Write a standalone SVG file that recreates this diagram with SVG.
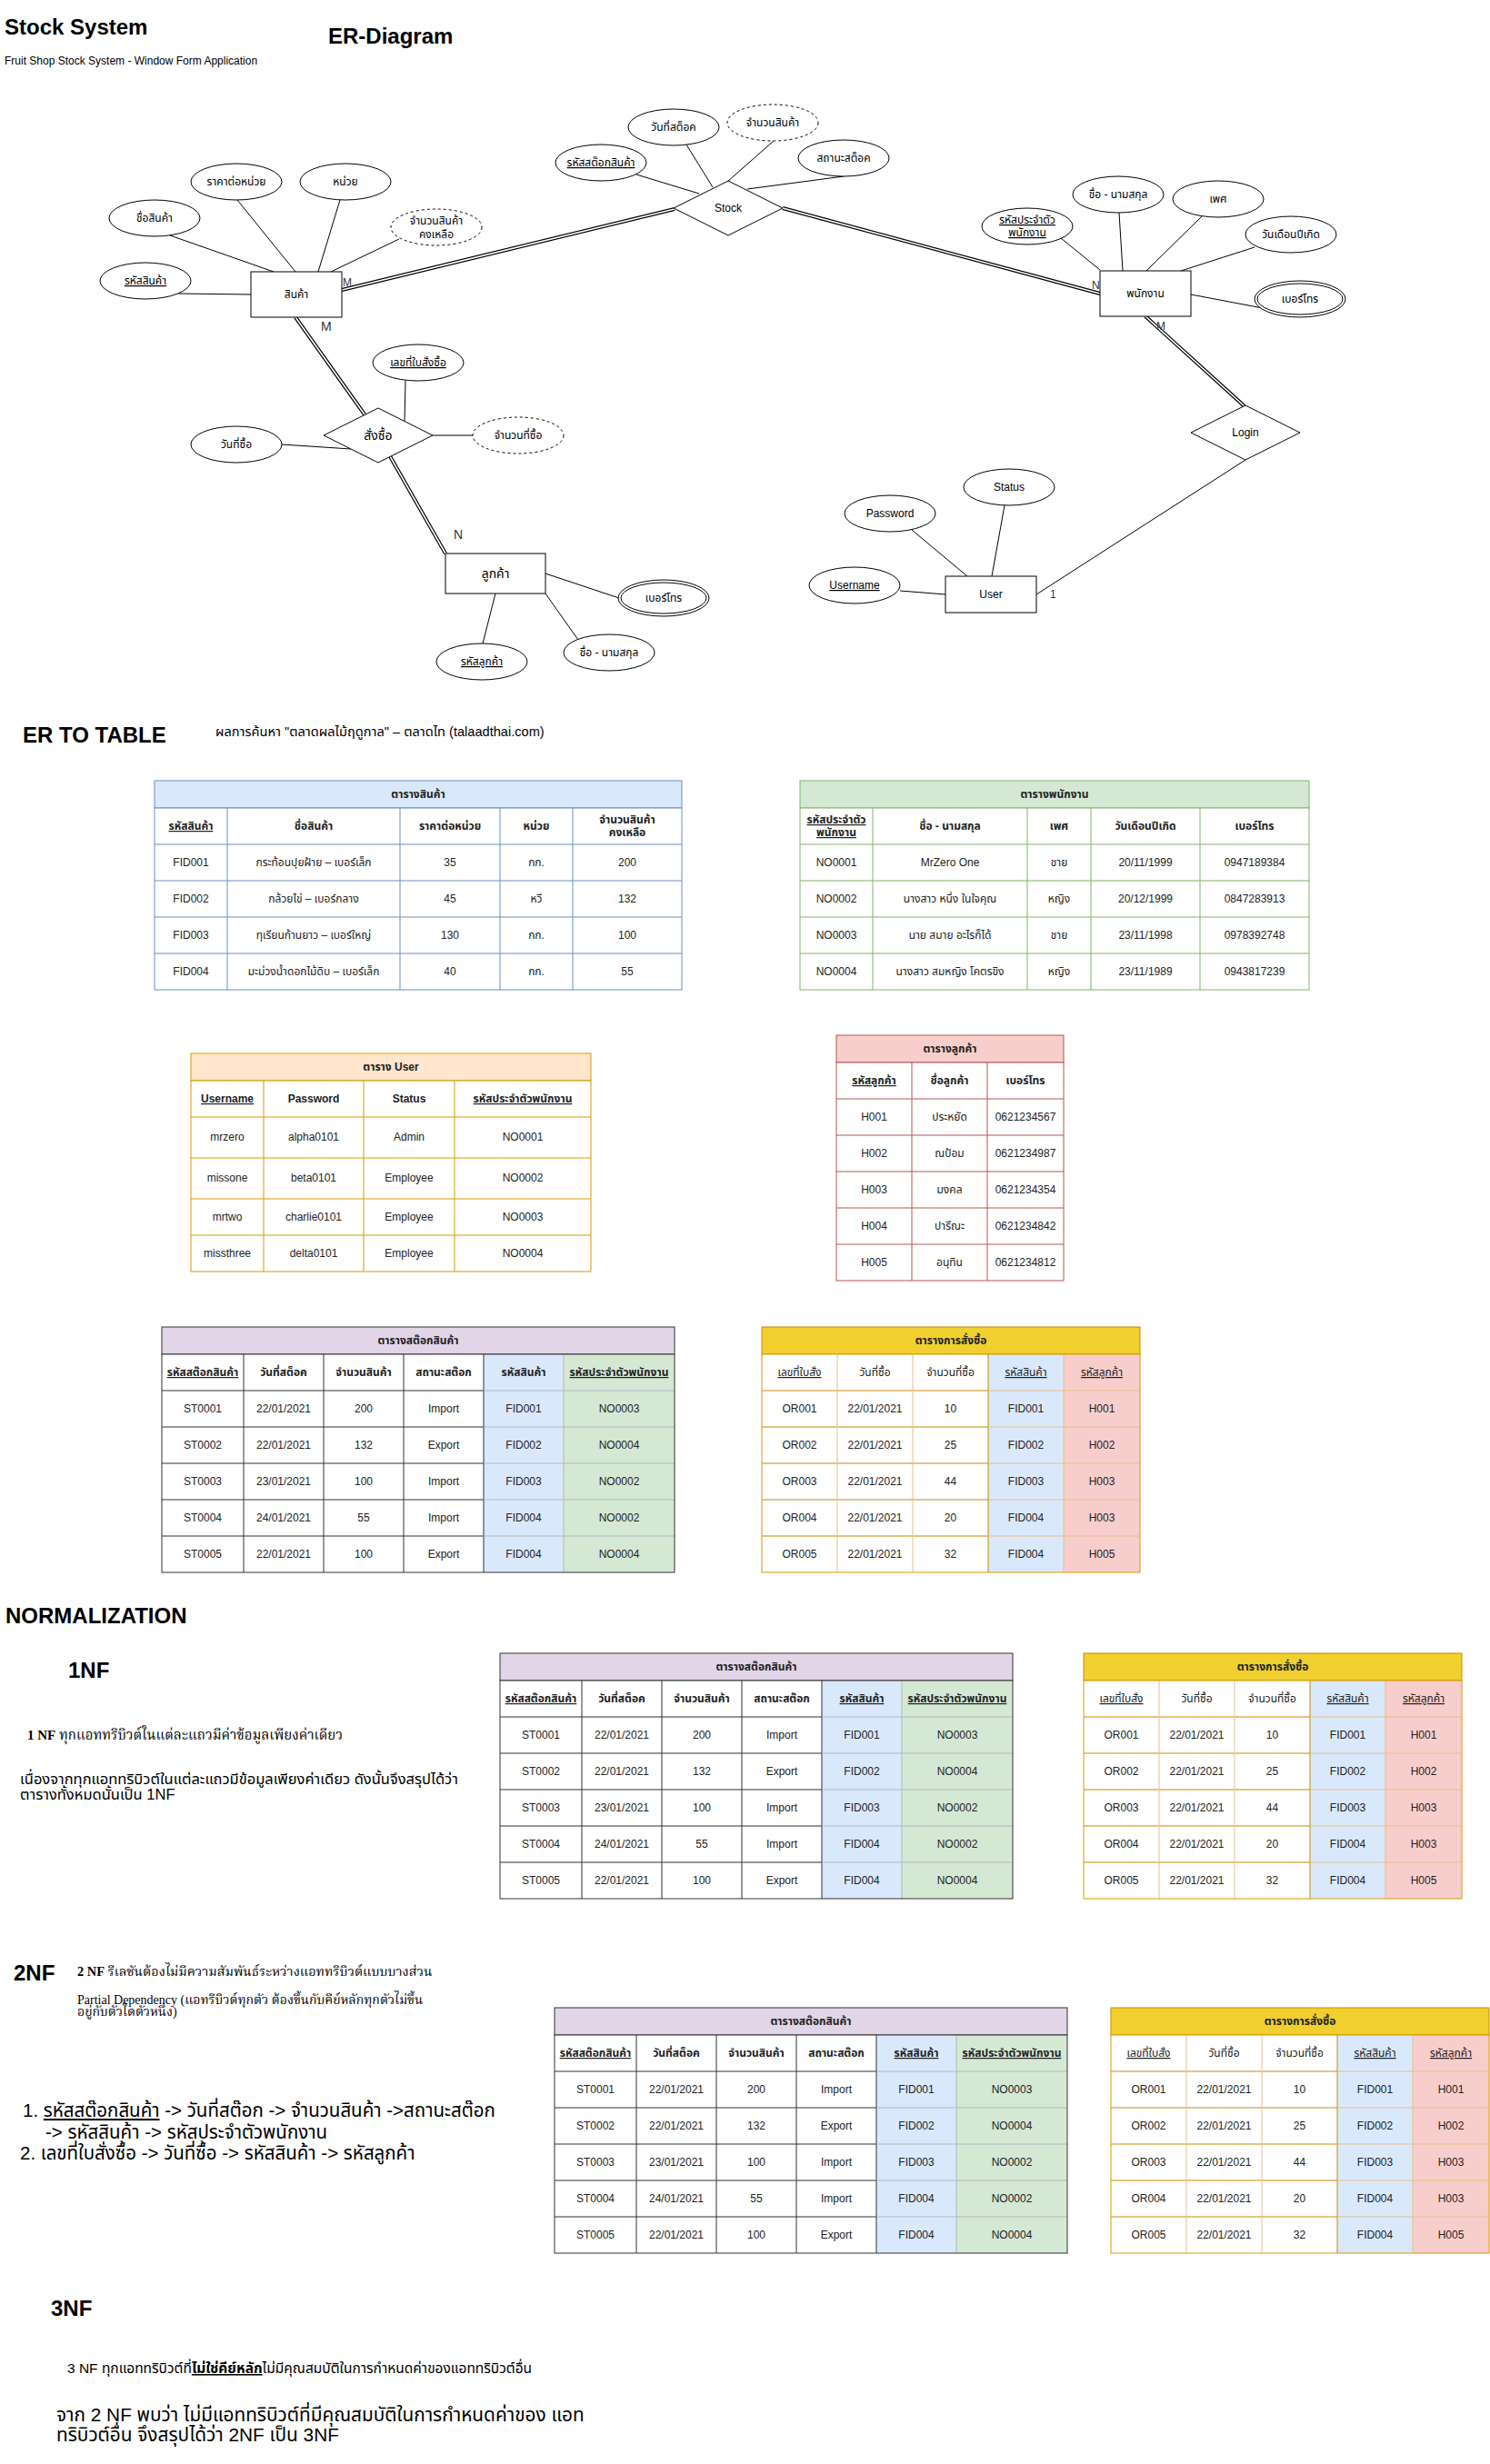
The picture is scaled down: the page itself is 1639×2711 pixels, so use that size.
<svg xmlns="http://www.w3.org/2000/svg" width="1639" height="2711" viewBox="0 0 1639 2711">
<style>
text{font-family:"Liberation Sans","Noto Sans Thai",Tahoma,"Noto Sans","DejaVu Sans",sans-serif;fill:#000}
.s{font-family:"Liberation Serif","Noto Serif Thai","DejaVu Serif",serif}
.c{text-anchor:middle}
.b{font-weight:bold}
.u{text-decoration:underline}
.h24{font-size:24px;font-weight:bold}
.a{font-size:12px;text-anchor:middle}
.el{fill:#fff;stroke:#000;stroke-width:1}
.dsh{stroke-dasharray:3 3}
.bx{fill:#fff;stroke:#000;stroke-width:1}
.ln{stroke:#000;stroke-width:1;fill:none}
.d1{stroke:#000;stroke-width:4}
.d2{stroke:#fff;stroke-width:1.6}
.lbl{fill:#333}
.tt{font-size:12px;font-weight:bold;text-anchor:middle;fill:#222}
.th{font-size:12px;font-weight:bold;text-anchor:middle;fill:#222}
.thr{font-size:12px;text-anchor:middle;fill:#222}
.td{font-size:12px;text-anchor:middle;fill:#222}
</style>

<!-- headings -->
<g id="titles">
<text x="5" y="38" class="h24">Stock System</text>
<text x="361" y="48" class="h24">ER-Diagram</text>
<text x="5" y="71" font-size="12">Fruit Shop  Stock System - Window Form Application</text>
<text x="25" y="817" class="h24">ER TO TABLE</text>
<text x="237" y="810" font-size="14.6" fill="#333">ผลการค้นหา "ตลาดผลไม้ฤดูกาล" – ตลาดไท (talaadthai.com)</text>
</g>

<!-- connectors -->
<g id="connectors">
<line class="ln" x1="196" y1="323" x2="276" y2="324"/>
<line class="ln" x1="187" y1="259" x2="301" y2="299"/>
<line class="ln" x1="261" y1="220" x2="325" y2="299"/>
<line class="ln" x1="374" y1="220" x2="350" y2="299"/>
<line class="ln" x1="439" y1="263" x2="364" y2="299"/>
<line class="ln" x1="700" y1="192" x2="769" y2="213"/>
<line class="ln" x1="755" y1="159" x2="784" y2="206"/>
<line class="ln" x1="851" y1="155" x2="800" y2="200"/>
<line class="ln" x1="928" y1="194" x2="822" y2="208"/>
<line class="ln" x1="1167" y1="262" x2="1210" y2="297"/>
<line class="ln" x1="1231" y1="234" x2="1235" y2="298"/>
<line class="ln" x1="1322" y1="238" x2="1261" y2="298"/>
<line class="ln" x1="1380" y1="272" x2="1299" y2="298"/>
<line class="ln" x1="1310" y1="324" x2="1389" y2="339"/>
<line class="ln" x1="1370" y1="506" x2="1140" y2="654"/>
<line class="ln" x1="990" y1="650" x2="1040" y2="654"/>
<line class="ln" x1="1003" y1="583" x2="1064" y2="634"/>
<line class="ln" x1="1105" y1="556" x2="1091" y2="634"/>
<line class="ln" x1="446" y1="419" x2="445" y2="463"/>
<line class="ln" x1="310" y1="489" x2="386" y2="494"/>
<line class="ln" x1="476" y1="479" x2="520" y2="479"/>
<line class="ln" x1="600" y1="631" x2="681" y2="658"/>
<line class="ln" x1="600" y1="653" x2="636" y2="704"/>
<line class="ln" x1="545" y1="653" x2="531" y2="708"/>
<g class="d1">
<line x1="376" y1="319" x2="742" y2="230"/>
<line x1="861" y1="229" x2="1210" y2="323"/>
<line x1="1260" y1="348" x2="1369" y2="447"/>
<line x1="325" y1="349" x2="401" y2="456"/>
<line x1="429" y1="502" x2="490" y2="609"/>
</g>
<g class="d2">
<line x1="376" y1="319" x2="742" y2="230"/>
<line x1="861" y1="229" x2="1210" y2="323"/>
<line x1="1260" y1="348" x2="1369" y2="447"/>
<line x1="325" y1="349" x2="401" y2="456"/>
<line x1="429" y1="502" x2="490" y2="609"/>
</g>
<text x="377" y="315" font-size="12" class="lbl">M</text>
<text x="353" y="364" font-size="14" class="lbl">M</text>
<text x="499" y="593" font-size="14" class="lbl">N</text>
<text x="1201" y="318" font-size="12" class="lbl">N</text>
<text x="1272" y="363" font-size="12" class="lbl">M</text>
<text x="1155" y="658" font-size="12" class="lbl">1</text>
</g>

<!-- ER nodes -->
<g id="e_product"><rect class="bx" x="276" y="299" width="100" height="50"/><text class="a" x="326" y="328">สินค้า</text></g>
<g id="a_pid"><ellipse class="el" cx="160" cy="309" rx="50" ry="20"/><text class="a u" x="160" y="313">รหัสสินค้า</text></g>
<g id="a_pname"><ellipse class="el" cx="170" cy="240" rx="50" ry="20"/><text class="a" x="170" y="244">ชื่อสินค้า</text></g>
<g id="a_price"><ellipse class="el" cx="260" cy="200" rx="50" ry="20"/><text class="a" x="260" y="204">ราคาต่อหน่วย</text></g>
<g id="a_unit"><ellipse class="el" cx="380" cy="200" rx="50" ry="20"/><text class="a" x="380" y="204">หน่วย</text></g>
<g id="a_qty"><ellipse class="el dsh" cx="480" cy="250" rx="50" ry="20"/><text class="a" x="480" y="247">จำนวนสินค้า</text><text class="a" x="480" y="262">คงเหลือ</text></g>

<g id="r_stock"><polygon class="bx" points="741,229 801,199 861,229 801,259"/><text class="a" x="801" y="233">Stock</text></g>
<g id="a_sid"><ellipse class="el" cx="661" cy="179" rx="50" ry="20"/><text class="a u" x="661" y="183">รหัสสต๊อกสินค้า</text></g>
<g id="a_sdate"><ellipse class="el" cx="741" cy="140" rx="50" ry="20"/><text class="a" x="741" y="144">วันที่สต็อค</text></g>
<g id="a_sqty"><ellipse class="el dsh" cx="850" cy="135" rx="50" ry="20"/><text class="a" x="850" y="139">จำนวนสินค้า</text></g>
<g id="a_sstatus"><ellipse class="el" cx="928" cy="174" rx="50" ry="20"/><text class="a" x="928" y="178">สถานะสต็อค</text></g>

<g id="e_emp"><rect class="bx" x="1210" y="298" width="100" height="50"/><text class="a" x="1260" y="327">พนักงาน</text></g>
<g id="a_eid"><ellipse class="el" cx="1130" cy="249" rx="50" ry="20"/><text class="a u" x="1130" y="246">รหัสประจำตัว</text><text class="a u" x="1130" y="260">พนักงาน</text></g>
<g id="a_ename"><ellipse class="el" cx="1230" cy="214" rx="50" ry="20"/><text class="a" x="1230" y="218">ชื่อ - นามสกุล</text></g>
<g id="a_sex"><ellipse class="el" cx="1340" cy="219" rx="50" ry="20"/><text class="a" x="1340" y="223">เพศ</text></g>
<g id="a_bdate"><ellipse class="el" cx="1420" cy="258" rx="50" ry="20"/><text class="a" x="1420" y="262">วันเดือนปีเกิด</text></g>
<g id="a_ephone"><ellipse class="el" cx="1430" cy="329" rx="50" ry="20"/><ellipse class="el" cx="1430" cy="329" rx="47" ry="17"/><text class="a" x="1430" y="333">เบอร์โทร</text></g>

<g id="r_login"><polygon class="bx" points="1310,476 1370,446 1430,476 1370,506"/><text class="a" x="1370" y="480">Login</text></g>
<g id="e_user"><rect class="bx" x="1040" y="634" width="100" height="40"/><text class="a" x="1090" y="658">User</text></g>
<g id="a_uname"><ellipse class="el" cx="940" cy="644" rx="50" ry="20"/><text class="a u" x="940" y="648">Username</text></g>
<g id="a_pass"><ellipse class="el" cx="979" cy="565" rx="50" ry="20"/><text class="a" x="979" y="569">Password</text></g>
<g id="a_status"><ellipse class="el" cx="1110" cy="536" rx="50" ry="20"/><text class="a" x="1110" y="540">Status</text></g>

<g id="r_order"><polygon class="bx" points="356,479 416,449 476,479 416,509"/><text x="416" y="484" font-size="14" class="c">สั่งซื้อ</text></g>
<g id="a_oid"><ellipse class="el" cx="460" cy="399" rx="50" ry="20"/><text class="a u" x="460" y="403">เลขที่ใบสั่งซื้อ</text></g>
<g id="a_odate"><ellipse class="el" cx="260" cy="489" rx="50" ry="20"/><text class="a" x="260" y="493">วันที่ซื้อ</text></g>
<g id="a_oqty"><ellipse class="el dsh" cx="570" cy="479" rx="50" ry="20"/><text class="a" x="570" y="483">จำนวนที่ซื้อ</text></g>

<g id="e_cust"><rect class="bx" x="490" y="609" width="110" height="44"/><text x="545" y="636" font-size="14" class="c">ลูกค้า</text></g>
<g id="a_cphone"><ellipse class="el" cx="730" cy="658" rx="50" ry="20"/><ellipse class="el" cx="730" cy="658" rx="47" ry="17"/><text class="a" x="730" y="662">เบอร์โทร</text></g>
<g id="a_cname"><ellipse class="el" cx="670" cy="718" rx="50" ry="20"/><text class="a" x="670" y="722">ชื่อ - นามสกุล</text></g>
<g id="a_cid"><ellipse class="el" cx="530" cy="728" rx="50" ry="20"/><text class="a u" x="530" y="732">รหัสลูกค้า</text></g>

<!-- Table: products -->
<g id="t_product" transform="translate(170,859)">
<rect x="0" y="0" width="580" height="30" fill="#dae8fc" stroke="#6c8ebf"/>
<rect x="0" y="30" width="580" height="200" fill="#fff" stroke="#6c8ebf"/>
<g stroke="#6c8ebf"><line x1="0" y1="70" x2="580" y2="70"/><line x1="0" y1="110" x2="580" y2="110"/><line x1="0" y1="150" x2="580" y2="150"/><line x1="0" y1="190" x2="580" y2="190"/>
<line x1="80" y1="30" x2="80" y2="230"/><line x1="270" y1="30" x2="270" y2="230"/><line x1="380" y1="30" x2="380" y2="230"/><line x1="460" y1="30" x2="460" y2="230"/></g>
<text class="tt" x="290" y="19">ตารางสินค้า</text>
<text class="th u" x="40" y="54">รหัสสินค้า</text><text class="th" x="175" y="54">ชื่อสินค้า</text><text class="th" x="325" y="54">ราคาต่อหน่วย</text><text class="th" x="420" y="54">หน่วย</text><text class="th" x="520" y="47">จำนวนสินค้า</text><text class="th" x="520" y="61">คงเหลือ</text>
<text class="td" x="40" y="94">FID001</text><text class="td" x="175" y="94">กระท้อนปุยฝ้าย – เบอร์เล็ก</text><text class="td" x="325" y="94">35</text><text class="td" x="420" y="94">กก.</text><text class="td" x="520" y="94">200</text>
<text class="td" x="40" y="134">FID002</text><text class="td" x="175" y="134">กล้วยไข่ – เบอร์กลาง</text><text class="td" x="325" y="134">45</text><text class="td" x="420" y="134">หวี</text><text class="td" x="520" y="134">132</text>
<text class="td" x="40" y="174">FID003</text><text class="td" x="175" y="174">ทุเรียนก้านยาว – เบอร์ใหญ่</text><text class="td" x="325" y="174">130</text><text class="td" x="420" y="174">กก.</text><text class="td" x="520" y="174">100</text>
<text class="td" x="40" y="214">FID004</text><text class="td" x="175" y="214">มะม่วงน้ำดอกไม้ดิบ – เบอร์เล็ก</text><text class="td" x="325" y="214">40</text><text class="td" x="420" y="214">กก.</text><text class="td" x="520" y="214">55</text>
</g>

<!-- Table: employees -->
<g id="t_emp" transform="translate(880,859)">
<rect x="0" y="0" width="560" height="30" fill="#d5e8d4" stroke="#82b366"/>
<rect x="0" y="30" width="560" height="200" fill="#fff" stroke="#82b366"/>
<g stroke="#82b366"><line x1="0" y1="70" x2="560" y2="70"/><line x1="0" y1="110" x2="560" y2="110"/><line x1="0" y1="150" x2="560" y2="150"/><line x1="0" y1="190" x2="560" y2="190"/>
<line x1="80" y1="30" x2="80" y2="230"/><line x1="250" y1="30" x2="250" y2="230"/><line x1="320" y1="30" x2="320" y2="230"/><line x1="440" y1="30" x2="440" y2="230"/></g>
<text class="tt" x="280" y="19">ตารางพนักงาน</text>
<text class="th u" x="40" y="47">รหัสประจำตัว</text><text class="th u" x="40" y="61">พนักงาน</text><text class="th" x="165" y="54">ชื่อ - นามสกุล</text><text class="th" x="285" y="54">เพศ</text><text class="th" x="380" y="54">วันเดือนปีเกิด</text><text class="th" x="500" y="54">เบอร์โทร</text>
<text class="td" x="40" y="94">NO0001</text><text class="td" x="165" y="94">MrZero One</text><text class="td" x="285" y="94">ชาย</text><text class="td" x="380" y="94">20/11/1999</text><text class="td" x="500" y="94">0947189384</text>
<text class="td" x="40" y="134">NO0002</text><text class="td" x="165" y="134">นางสาว หนึ่ง ในใจคุณ</text><text class="td" x="285" y="134">หญิง</text><text class="td" x="380" y="134">20/12/1999</text><text class="td" x="500" y="134">0847283913</text>
<text class="td" x="40" y="174">NO0003</text><text class="td" x="165" y="174">นาย สมาย อะไรก็ได้</text><text class="td" x="285" y="174">ชาย</text><text class="td" x="380" y="174">23/11/1998</text><text class="td" x="500" y="174">0978392748</text>
<text class="td" x="40" y="214">NO0004</text><text class="td" x="165" y="214">นางสาว สมหญิง โคตรขิง</text><text class="td" x="285" y="214">หญิง</text><text class="td" x="380" y="214">23/11/1989</text><text class="td" x="500" y="214">0943817239</text>
</g>

<!-- Table: user -->
<g id="t_user" transform="translate(210,1159)">
<rect x="0" y="0" width="440" height="30" fill="#ffe6cc" stroke="#d79b00"/>
<rect x="0" y="30" width="440" height="210" fill="#fff" stroke="#d79b00"/>
<g stroke="#d79b00"><line x1="0" y1="70" x2="440" y2="70"/><line x1="0" y1="115" x2="440" y2="115"/><line x1="0" y1="160" x2="440" y2="160"/><line x1="0" y1="200" x2="440" y2="200"/>
<line x1="80" y1="30" x2="80" y2="240"/><line x1="190" y1="30" x2="190" y2="240"/><line x1="290" y1="30" x2="290" y2="240"/></g>
<text class="tt" x="220" y="19">ตาราง User</text>
<text class="th u" x="40" y="54">Username</text><text class="th" x="135" y="54">Password</text><text class="th" x="240" y="54">Status</text><text class="th u" x="365" y="54">รหัสประจำตัวพนักงาน</text>
<text class="td" x="40" y="96">mrzero</text><text class="td" x="135" y="96">alpha0101</text><text class="td" x="240" y="96">Admin</text><text class="td" x="365" y="96">NO0001</text>
<text class="td" x="40" y="141">missone</text><text class="td" x="135" y="141">beta0101</text><text class="td" x="240" y="141">Employee</text><text class="td" x="365" y="141">NO0002</text>
<text class="td" x="40" y="184">mrtwo</text><text class="td" x="135" y="184">charlie0101</text><text class="td" x="240" y="184">Employee</text><text class="td" x="365" y="184">NO0003</text>
<text class="td" x="40" y="224">missthree</text><text class="td" x="135" y="224">delta0101</text><text class="td" x="240" y="224">Employee</text><text class="td" x="365" y="224">NO0004</text>
</g>

<!-- Table: customers -->
<g id="t_cust" transform="translate(920,1139)">
<rect x="0" y="0" width="250" height="30" fill="#f8cecc" stroke="#b85450"/>
<rect x="0" y="30" width="250" height="240" fill="#fff" stroke="#b85450"/>
<g stroke="#b85450"><line x1="0" y1="70" x2="250" y2="70"/><line x1="0" y1="110" x2="250" y2="110"/><line x1="0" y1="150" x2="250" y2="150"/><line x1="0" y1="190" x2="250" y2="190"/><line x1="0" y1="230" x2="250" y2="230"/>
<line x1="83" y1="30" x2="83" y2="270"/><line x1="166" y1="30" x2="166" y2="270"/></g>
<text class="tt" x="125" y="19">ตารางลูกค้า</text>
<text class="th u" x="41.5" y="54">รหัสลูกค้า</text><text class="th" x="124.5" y="54">ชื่อลูกค้า</text><text class="th" x="208" y="54">เบอร์โทร</text>
<text class="td" x="41.5" y="94">H001</text><text class="td" x="124.5" y="94">ประหยัด</text><text class="td" x="208" y="94">0621234567</text>
<text class="td" x="41.5" y="134">H002</text><text class="td" x="124.5" y="134">ณป้อม</text><text class="td" x="208" y="134">0621234987</text>
<text class="td" x="41.5" y="174">H003</text><text class="td" x="124.5" y="174">มงคล</text><text class="td" x="208" y="174">0621234354</text>
<text class="td" x="41.5" y="214">H004</text><text class="td" x="124.5" y="214">ปารีณะ</text><text class="td" x="208" y="214">0621234842</text>
<text class="td" x="41.5" y="254">H005</text><text class="td" x="124.5" y="254">อนุทิน</text><text class="td" x="208" y="254">0621234812</text>
</g>

<!-- Stock table (ER) -->
<g id="t_stock" transform="translate(178,1460)">
<rect x="0" y="0" width="564" height="30" fill="#e1d5e7" stroke="#333"/>
<rect x="0" y="30" width="564" height="240" fill="#fff"/>
<rect x="354" y="30" width="88" height="240" fill="#dae8fc"/><rect x="442" y="30" width="122" height="240" fill="#d5e8d4"/>
<g stroke="#333"><line x1="0" y1="70" x2="354" y2="70"/><line x1="0" y1="110" x2="354" y2="110"/><line x1="0" y1="150" x2="354" y2="150"/><line x1="0" y1="190" x2="354" y2="190"/><line x1="0" y1="230" x2="354" y2="230"/>
<line x1="90" y1="30" x2="90" y2="270"/><line x1="178" y1="30" x2="178" y2="270"/><line x1="266" y1="30" x2="266" y2="270"/><line x1="354" y1="30" x2="354" y2="270"/></g>
<g stroke="#b0b8c0"><line x1="354" y1="70" x2="564" y2="70"/><line x1="354" y1="110" x2="564" y2="110"/><line x1="354" y1="150" x2="564" y2="150"/><line x1="354" y1="190" x2="564" y2="190"/><line x1="354" y1="230" x2="564" y2="230"/><line x1="442" y1="30" x2="442" y2="270"/></g>
<rect x="0" y="30" width="564" height="240" fill="none" stroke="#333"/>
<text class="tt" x="282" y="19">ตารางสต๊อกสินค้า</text>
<text class="th u" x="45" y="54">รหัสสต๊อกสินค้า</text><text class="th" x="134" y="54">วันที่สต็อค</text><text class="th" x="222" y="54">จำนวนสินค้า</text><text class="th" x="310" y="54">สถานะสต๊อก</text><text class="th" x="398" y="54">รหัสสินค้า</text><text class="th u" x="503" y="54">รหัสประจำตัวพนักงาน</text>
<text class="td" x="45" y="94">ST0001</text><text class="td" x="134" y="94">22/01/2021</text><text class="td" x="222" y="94">200</text><text class="td" x="310" y="94">Import</text><text class="td" x="398" y="94">FID001</text><text class="td" x="503" y="94">NO0003</text>
<text class="td" x="45" y="134">ST0002</text><text class="td" x="134" y="134">22/01/2021</text><text class="td" x="222" y="134">132</text><text class="td" x="310" y="134">Export</text><text class="td" x="398" y="134">FID002</text><text class="td" x="503" y="134">NO0004</text>
<text class="td" x="45" y="174">ST0003</text><text class="td" x="134" y="174">23/01/2021</text><text class="td" x="222" y="174">100</text><text class="td" x="310" y="174">Import</text><text class="td" x="398" y="174">FID003</text><text class="td" x="503" y="174">NO0002</text>
<text class="td" x="45" y="214">ST0004</text><text class="td" x="134" y="214">24/01/2021</text><text class="td" x="222" y="214">55</text><text class="td" x="310" y="214">Import</text><text class="td" x="398" y="214">FID004</text><text class="td" x="503" y="214">NO0002</text>
<text class="td" x="45" y="254">ST0005</text><text class="td" x="134" y="254">22/01/2021</text><text class="td" x="222" y="254">100</text><text class="td" x="310" y="254">Export</text><text class="td" x="398" y="254">FID004</text><text class="td" x="503" y="254">NO0004</text>
</g>

<!-- Order table (ER) -->
<g id="t_order" transform="translate(838,1460)">
<rect x="0" y="0" width="416" height="30" fill="#f0cf2f" stroke="#c98a00"/>
<rect x="0" y="30" width="416" height="240" fill="#fff"/>
<rect x="249" y="30" width="83" height="240" fill="#dae8fc"/><rect x="332" y="30" width="84" height="240" fill="#f8cecc"/>
<g stroke="#c98a00"><line x1="0" y1="70" x2="249" y2="70"/><line x1="0" y1="110" x2="249" y2="110"/><line x1="0" y1="150" x2="249" y2="150"/><line x1="0" y1="190" x2="249" y2="190"/><line x1="0" y1="230" x2="249" y2="230"/><line x1="249" y1="30" x2="249" y2="270"/></g>
<g stroke="#e6c08c"><line x1="83" y1="30" x2="83" y2="270"/><line x1="166" y1="30" x2="166" y2="270"/><line x1="332" y1="30" x2="332" y2="270"/><line x1="249" y1="70" x2="416" y2="70"/><line x1="249" y1="110" x2="416" y2="110"/><line x1="249" y1="150" x2="416" y2="150"/><line x1="249" y1="190" x2="416" y2="190"/><line x1="249" y1="230" x2="416" y2="230"/></g>
<rect x="0" y="30" width="416" height="240" fill="none" stroke="#d79b00"/>
<text class="tt" x="208" y="19">ตารางการสั่งซื้อ</text>
<text class="thr u" x="41.5" y="54">เลขที่ใบสั่ง</text><text class="thr" x="124.5" y="54">วันที่ซื้อ</text><text class="thr" x="207.5" y="54">จำนวนที่ซื้อ</text><text class="thr u" x="290.5" y="54">รหัสสินค้า</text><text class="thr u" x="374" y="54">รหัสลูกค้า</text>
<text class="td" x="41.5" y="94">OR001</text><text class="td" x="124.5" y="94">22/01/2021</text><text class="td" x="207.5" y="94">10</text><text class="td" x="290.5" y="94">FID001</text><text class="td" x="374" y="94">H001</text>
<text class="td" x="41.5" y="134">OR002</text><text class="td" x="124.5" y="134">22/01/2021</text><text class="td" x="207.5" y="134">25</text><text class="td" x="290.5" y="134">FID002</text><text class="td" x="374" y="134">H002</text>
<text class="td" x="41.5" y="174">OR003</text><text class="td" x="124.5" y="174">22/01/2021</text><text class="td" x="207.5" y="174">44</text><text class="td" x="290.5" y="174">FID003</text><text class="td" x="374" y="174">H003</text>
<text class="td" x="41.5" y="214">OR004</text><text class="td" x="124.5" y="214">22/01/2021</text><text class="td" x="207.5" y="214">20</text><text class="td" x="290.5" y="214">FID004</text><text class="td" x="374" y="214">H003</text>
<text class="td" x="41.5" y="254">OR005</text><text class="td" x="124.5" y="254">22/01/2021</text><text class="td" x="207.5" y="254">32</text><text class="td" x="290.5" y="254">FID004</text><text class="td" x="374" y="254">H005</text>
</g>

<!-- Normalization text -->
<g id="norm_text">
<text x="6" y="1786" class="h24">NORMALIZATION</text>
<text x="75" y="1846" class="h24">1NF</text>
<text x="30" y="1914" font-size="15" class="s"><tspan font-weight="bold">1 NF</tspan> ทุกแอททริบิวต์ในแต่ละแถวมีค่าข้อมูลเพียงค่าเดียว</text>
<text x="22" y="1963" font-size="16.5" fill="#222">เนื่องจากทุกแอททริบิวต์ในแต่ละแถวมีข้อมูลเพียงค่าเดียว ดังนั้นจึงสรุปได้ว่า</text>
<text x="22" y="1980" font-size="16.5" fill="#222">ตารางทั้งหมดนั้นเป็น 1NF</text>
<text x="15" y="2179" class="h24">2NF</text>
<text x="85" y="2174" font-size="14.4" class="s"><tspan font-weight="bold">2 NF</tspan>  รีเลชันต้องไม่มีความสัมพันธ์ระหว่างแอททริบิวต์แบบบางส่วน</text>
<text x="85" y="2205" font-size="14" class="s" fill="#444">Partial Dependency (แอทริบิวต์ทุกตัว ต้องขึ้นกับคีย์หลักทุกตัวไม่ขึ้น</text>
<text x="85" y="2218" font-size="14" class="s" fill="#444">อยู่กับตัวใดตัวหนึ่ง)</text>
<text x="25" y="2329" font-size="20.5">1. <tspan class="u">รหัสสต๊อกสินค้า</tspan> -&gt; วันที่สต๊อก -&gt; จำนวนสินค้า -&gt;สถานะสต๊อก</text>
<text x="50" y="2353" font-size="20.5">-&gt; รหัสสินค้า -&gt; รหัสประจำตัวพนักงาน</text>
<text x="22" y="2376" font-size="20.5">2. เลขที่ใบสั่งซื้อ -&gt; วันที่ซื้อ -&gt; รหัสสินค้า -&gt; รหัสลูกค้า</text>
<text x="56" y="2548" class="h24">3NF</text>
<text x="74" y="2611" font-size="15.5">3 NF ทุกแอททริบิวต์ที่<tspan class="u b">ไม่ใช่คีย์หลัก</tspan>ไม่มีคุณสมบัติในการกำหนดค่าของแอททริบิวต์อื่น</text>
<text x="62" y="2664" font-size="20.8">จาก 2 NF พบว่า ไม่มีแอททริบิวต์ที่มีคุณสมบัติในการกำหนดค่าของ แอท</text>
<text x="62" y="2686" font-size="20.8">ทริบิวต์อื่น จึงสรุปได้ว่า 2NF เป็น 3NF</text>
</g>

<!-- Stock table (1NF) -->
<g id="t_stock_1nf" transform="translate(550,1819)">
<rect x="0" y="0" width="564" height="30" fill="#e1d5e7" stroke="#333"/>
<rect x="0" y="30" width="564" height="240" fill="#fff"/>
<rect x="354" y="30" width="88" height="240" fill="#dae8fc"/><rect x="442" y="30" width="122" height="240" fill="#d5e8d4"/>
<g stroke="#333"><line x1="0" y1="70" x2="354" y2="70"/><line x1="0" y1="110" x2="354" y2="110"/><line x1="0" y1="150" x2="354" y2="150"/><line x1="0" y1="190" x2="354" y2="190"/><line x1="0" y1="230" x2="354" y2="230"/>
<line x1="90" y1="30" x2="90" y2="270"/><line x1="178" y1="30" x2="178" y2="270"/><line x1="266" y1="30" x2="266" y2="270"/><line x1="354" y1="30" x2="354" y2="270"/></g>
<g stroke="#b0b8c0"><line x1="354" y1="70" x2="564" y2="70"/><line x1="354" y1="110" x2="564" y2="110"/><line x1="354" y1="150" x2="564" y2="150"/><line x1="354" y1="190" x2="564" y2="190"/><line x1="354" y1="230" x2="564" y2="230"/><line x1="442" y1="30" x2="442" y2="270"/></g>
<rect x="0" y="30" width="564" height="240" fill="none" stroke="#333"/>
<text class="tt" x="282" y="19">ตารางสต๊อกสินค้า</text>
<text class="th u" x="45" y="54">รหัสสต๊อกสินค้า</text><text class="th" x="134" y="54">วันที่สต็อค</text><text class="th" x="222" y="54">จำนวนสินค้า</text><text class="th" x="310" y="54">สถานะสต๊อก</text><text class="th u" x="398" y="54">รหัสสินค้า</text><text class="th u" x="503" y="54">รหัสประจำตัวพนักงาน</text>
<text class="td" x="45" y="94">ST0001</text><text class="td" x="134" y="94">22/01/2021</text><text class="td" x="222" y="94">200</text><text class="td" x="310" y="94">Import</text><text class="td" x="398" y="94">FID001</text><text class="td" x="503" y="94">NO0003</text>
<text class="td" x="45" y="134">ST0002</text><text class="td" x="134" y="134">22/01/2021</text><text class="td" x="222" y="134">132</text><text class="td" x="310" y="134">Export</text><text class="td" x="398" y="134">FID002</text><text class="td" x="503" y="134">NO0004</text>
<text class="td" x="45" y="174">ST0003</text><text class="td" x="134" y="174">23/01/2021</text><text class="td" x="222" y="174">100</text><text class="td" x="310" y="174">Import</text><text class="td" x="398" y="174">FID003</text><text class="td" x="503" y="174">NO0002</text>
<text class="td" x="45" y="214">ST0004</text><text class="td" x="134" y="214">24/01/2021</text><text class="td" x="222" y="214">55</text><text class="td" x="310" y="214">Import</text><text class="td" x="398" y="214">FID004</text><text class="td" x="503" y="214">NO0002</text>
<text class="td" x="45" y="254">ST0005</text><text class="td" x="134" y="254">22/01/2021</text><text class="td" x="222" y="254">100</text><text class="td" x="310" y="254">Export</text><text class="td" x="398" y="254">FID004</text><text class="td" x="503" y="254">NO0004</text>
</g>

<!-- Order table (1NF) -->
<g id="t_order_1nf" transform="translate(1192,1819)">
<rect x="0" y="0" width="416" height="30" fill="#f0cf2f" stroke="#c98a00"/>
<rect x="0" y="30" width="416" height="240" fill="#fff"/>
<rect x="249" y="30" width="83" height="240" fill="#dae8fc"/><rect x="332" y="30" width="84" height="240" fill="#f8cecc"/>
<g stroke="#c98a00"><line x1="0" y1="70" x2="249" y2="70"/><line x1="0" y1="110" x2="249" y2="110"/><line x1="0" y1="150" x2="249" y2="150"/><line x1="0" y1="190" x2="249" y2="190"/><line x1="0" y1="230" x2="249" y2="230"/><line x1="249" y1="30" x2="249" y2="270"/></g>
<g stroke="#e6c08c"><line x1="83" y1="30" x2="83" y2="270"/><line x1="166" y1="30" x2="166" y2="270"/><line x1="332" y1="30" x2="332" y2="270"/><line x1="249" y1="70" x2="416" y2="70"/><line x1="249" y1="110" x2="416" y2="110"/><line x1="249" y1="150" x2="416" y2="150"/><line x1="249" y1="190" x2="416" y2="190"/><line x1="249" y1="230" x2="416" y2="230"/></g>
<rect x="0" y="30" width="416" height="240" fill="none" stroke="#d79b00"/>
<text class="tt" x="208" y="19">ตารางการสั่งซื้อ</text>
<text class="thr u" x="41.5" y="54">เลขที่ใบสั่ง</text><text class="thr" x="124.5" y="54">วันที่ซื้อ</text><text class="thr" x="207.5" y="54">จำนวนที่ซื้อ</text><text class="thr u" x="290.5" y="54">รหัสสินค้า</text><text class="thr u" x="374" y="54">รหัสลูกค้า</text>
<text class="td" x="41.5" y="94">OR001</text><text class="td" x="124.5" y="94">22/01/2021</text><text class="td" x="207.5" y="94">10</text><text class="td" x="290.5" y="94">FID001</text><text class="td" x="374" y="94">H001</text>
<text class="td" x="41.5" y="134">OR002</text><text class="td" x="124.5" y="134">22/01/2021</text><text class="td" x="207.5" y="134">25</text><text class="td" x="290.5" y="134">FID002</text><text class="td" x="374" y="134">H002</text>
<text class="td" x="41.5" y="174">OR003</text><text class="td" x="124.5" y="174">22/01/2021</text><text class="td" x="207.5" y="174">44</text><text class="td" x="290.5" y="174">FID003</text><text class="td" x="374" y="174">H003</text>
<text class="td" x="41.5" y="214">OR004</text><text class="td" x="124.5" y="214">22/01/2021</text><text class="td" x="207.5" y="214">20</text><text class="td" x="290.5" y="214">FID004</text><text class="td" x="374" y="214">H003</text>
<text class="td" x="41.5" y="254">OR005</text><text class="td" x="124.5" y="254">22/01/2021</text><text class="td" x="207.5" y="254">32</text><text class="td" x="290.5" y="254">FID004</text><text class="td" x="374" y="254">H005</text>
</g>

<!-- Stock table (2NF) -->
<g id="t_stock_2nf" transform="translate(610,2209)">
<rect x="0" y="0" width="564" height="30" fill="#e1d5e7" stroke="#333"/>
<rect x="0" y="30" width="564" height="240" fill="#fff"/>
<rect x="354" y="30" width="88" height="240" fill="#dae8fc"/><rect x="442" y="30" width="122" height="240" fill="#d5e8d4"/>
<g stroke="#333"><line x1="0" y1="70" x2="354" y2="70"/><line x1="0" y1="110" x2="354" y2="110"/><line x1="0" y1="150" x2="354" y2="150"/><line x1="0" y1="190" x2="354" y2="190"/><line x1="0" y1="230" x2="354" y2="230"/>
<line x1="90" y1="30" x2="90" y2="270"/><line x1="178" y1="30" x2="178" y2="270"/><line x1="266" y1="30" x2="266" y2="270"/><line x1="354" y1="30" x2="354" y2="270"/></g>
<g stroke="#b0b8c0"><line x1="354" y1="70" x2="564" y2="70"/><line x1="354" y1="110" x2="564" y2="110"/><line x1="354" y1="150" x2="564" y2="150"/><line x1="354" y1="190" x2="564" y2="190"/><line x1="354" y1="230" x2="564" y2="230"/><line x1="442" y1="30" x2="442" y2="270"/></g>
<rect x="0" y="30" width="564" height="240" fill="none" stroke="#333"/>
<text class="tt" x="282" y="19">ตารางสต๊อกสินค้า</text>
<text class="th u" x="45" y="54">รหัสสต๊อกสินค้า</text><text class="th" x="134" y="54">วันที่สต็อค</text><text class="th" x="222" y="54">จำนวนสินค้า</text><text class="th" x="310" y="54">สถานะสต๊อก</text><text class="th u" x="398" y="54">รหัสสินค้า</text><text class="th u" x="503" y="54">รหัสประจำตัวพนักงาน</text>
<text class="td" x="45" y="94">ST0001</text><text class="td" x="134" y="94">22/01/2021</text><text class="td" x="222" y="94">200</text><text class="td" x="310" y="94">Import</text><text class="td" x="398" y="94">FID001</text><text class="td" x="503" y="94">NO0003</text>
<text class="td" x="45" y="134">ST0002</text><text class="td" x="134" y="134">22/01/2021</text><text class="td" x="222" y="134">132</text><text class="td" x="310" y="134">Export</text><text class="td" x="398" y="134">FID002</text><text class="td" x="503" y="134">NO0004</text>
<text class="td" x="45" y="174">ST0003</text><text class="td" x="134" y="174">23/01/2021</text><text class="td" x="222" y="174">100</text><text class="td" x="310" y="174">Import</text><text class="td" x="398" y="174">FID003</text><text class="td" x="503" y="174">NO0002</text>
<text class="td" x="45" y="214">ST0004</text><text class="td" x="134" y="214">24/01/2021</text><text class="td" x="222" y="214">55</text><text class="td" x="310" y="214">Import</text><text class="td" x="398" y="214">FID004</text><text class="td" x="503" y="214">NO0002</text>
<text class="td" x="45" y="254">ST0005</text><text class="td" x="134" y="254">22/01/2021</text><text class="td" x="222" y="254">100</text><text class="td" x="310" y="254">Export</text><text class="td" x="398" y="254">FID004</text><text class="td" x="503" y="254">NO0004</text>
</g>

<!-- Order table (2NF) -->
<g id="t_order_2nf" transform="translate(1222,2209)">
<rect x="0" y="0" width="416" height="30" fill="#f0cf2f" stroke="#c98a00"/>
<rect x="0" y="30" width="416" height="240" fill="#fff"/>
<rect x="249" y="30" width="83" height="240" fill="#dae8fc"/><rect x="332" y="30" width="84" height="240" fill="#f8cecc"/>
<g stroke="#c98a00"><line x1="0" y1="70" x2="249" y2="70"/><line x1="0" y1="110" x2="249" y2="110"/><line x1="0" y1="150" x2="249" y2="150"/><line x1="0" y1="190" x2="249" y2="190"/><line x1="0" y1="230" x2="249" y2="230"/><line x1="249" y1="30" x2="249" y2="270"/></g>
<g stroke="#e6c08c"><line x1="83" y1="30" x2="83" y2="270"/><line x1="166" y1="30" x2="166" y2="270"/><line x1="332" y1="30" x2="332" y2="270"/><line x1="249" y1="70" x2="416" y2="70"/><line x1="249" y1="110" x2="416" y2="110"/><line x1="249" y1="150" x2="416" y2="150"/><line x1="249" y1="190" x2="416" y2="190"/><line x1="249" y1="230" x2="416" y2="230"/></g>
<rect x="0" y="30" width="416" height="240" fill="none" stroke="#d79b00"/>
<text class="tt" x="208" y="19">ตารางการสั่งซื้อ</text>
<text class="thr u" x="41.5" y="54">เลขที่ใบสั่ง</text><text class="thr" x="124.5" y="54">วันที่ซื้อ</text><text class="thr" x="207.5" y="54">จำนวนที่ซื้อ</text><text class="thr u" x="290.5" y="54">รหัสสินค้า</text><text class="thr u" x="374" y="54">รหัสลูกค้า</text>
<text class="td" x="41.5" y="94">OR001</text><text class="td" x="124.5" y="94">22/01/2021</text><text class="td" x="207.5" y="94">10</text><text class="td" x="290.5" y="94">FID001</text><text class="td" x="374" y="94">H001</text>
<text class="td" x="41.5" y="134">OR002</text><text class="td" x="124.5" y="134">22/01/2021</text><text class="td" x="207.5" y="134">25</text><text class="td" x="290.5" y="134">FID002</text><text class="td" x="374" y="134">H002</text>
<text class="td" x="41.5" y="174">OR003</text><text class="td" x="124.5" y="174">22/01/2021</text><text class="td" x="207.5" y="174">44</text><text class="td" x="290.5" y="174">FID003</text><text class="td" x="374" y="174">H003</text>
<text class="td" x="41.5" y="214">OR004</text><text class="td" x="124.5" y="214">22/01/2021</text><text class="td" x="207.5" y="214">20</text><text class="td" x="290.5" y="214">FID004</text><text class="td" x="374" y="214">H003</text>
<text class="td" x="41.5" y="254">OR005</text><text class="td" x="124.5" y="254">22/01/2021</text><text class="td" x="207.5" y="254">32</text><text class="td" x="290.5" y="254">FID004</text><text class="td" x="374" y="254">H005</text>
</g>
</svg>
